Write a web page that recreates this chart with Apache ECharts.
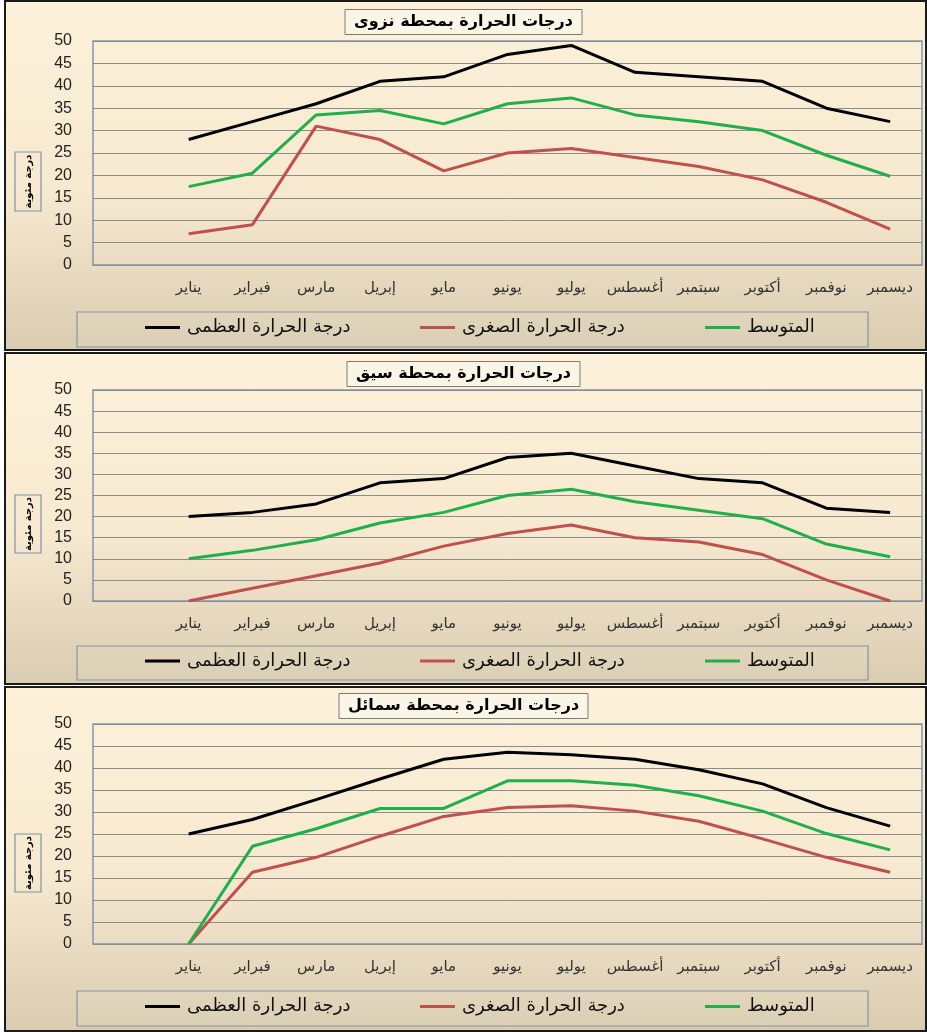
<!DOCTYPE html>
<html>
<head>
<meta charset="utf-8">
<script src="https://cdn.jsdelivr.net/npm/echarts@6/dist/echarts.min.js"></script>
<style>
  html, body { margin: 0; padding: 0; background: #ffffff; }
  #wrap { position: relative; width: 927px; height: 1032px; overflow: hidden; }
  .panel { position: absolute; left: 4px; width: 919px; border: 2px solid #1a1a1a;
           background: linear-gradient(to bottom, #fdf1da 0%, #f6e9cf 55%, #d9ccb1 100%); }
  #chart { position: absolute; left: 0; top: 0; width: 927px; height: 1032px; }
</style>
</head>
<body>
<div id="wrap">
  <div class="panel" style="top:0px;height:347px;"></div>
  <div class="panel" style="top:352px;height:329px;"></div>
  <div class="panel" style="top:686px;height:342px;"></div>
  <div id="chart"></div>
</div>
<script>
// ---- data ----
const months = ['يناير','فبراير','مارس','إبريل','مايو','يونيو','يوليو','أغسطس','سبتمبر','أكتوبر','نوفمبر','ديسمبر'];
const stationTitles = ['درجات الحرارة بمحطة نزوى', 'درجات الحرارة بمحطة سيق', 'درجات الحرارة بمحطة سمائل'];
const seriesNames = ['درجة الحرارة العظمى', 'درجة الحرارة الصغرى', 'المتوسط'];
const yAxisName = 'درجة مئوية';
const yMin = 0, yMax = 50, yInterval = 5;

const nizwaMax = [28, 32, 36, 41, 42, 47, 49, 43, 42, 41, 35, 32];
const nizwaMin = [7, 9, 31, 28, 21, 25, 26, 24, 22, 19, 14, 8];
const nizwaAvg = [17.5, 20.5, 33.5, 34.5, 31.5, 36, 37.3, 33.5, 32, 30, 24.5, 19.8];

const sayqMax = [20, 21, 23, 28, 29, 34, 35, 32, 29, 28, 22, 21];
const sayqMin = [0, 3, 6, 9, 13, 16, 18, 15, 14, 11, 5, 0];
const sayqAvg = [10, 12, 14.5, 18.5, 21, 25, 26.5, 23.5, 21.5, 19.5, 13.5, 10.5];

const samailMax = [25, 28.3, 32.8, 37.5, 42, 43.6, 43, 42, 39.6, 36.4, 31, 26.8];
const samailMin = [0, 16.3, 19.7, 24.5, 29, 31, 31.4, 30.2, 27.9, 23.9, 19.7, 16.3];
const samailAvg = [0, 22.2, 26.2, 30.8, 30.8, 37.1, 37.1, 36.1, 33.7, 30.2, 25.1, 21.4];

// ---- layout ----
const colors = ['#000000', '#c0504d', '#1fb04c'];
const panels = [
  { top: 41, height: 224, titleTop: 9, nameBox: [15, 152, 26, 59], legendBox: [77, 312, 791, 35],
    data: [nizwaMax, nizwaMin, nizwaAvg], labelFont: 'Liberation Sans' },
  { top: 390, height: 211, titleTop: 361, nameBox: [15, 495, 26, 58], legendBox: [77, 646, 791, 34],
    data: [sayqMax, sayqMin, sayqAvg], labelFont: 'Liberation Sans Narrow' },
  { top: 724, height: 220, titleTop: 693, nameBox: [15, 834, 26, 58], legendBox: [77, 991, 791, 35],
    data: [samailMax, samailMin, samailAvg], labelFont: 'Liberation Sans Narrow' }
];
const legendLefts = [145, 420, 705];
const categories = [''].concat(months);

const option = {
  backgroundColor: 'transparent',
  animation: false,
  title: [], grid: [], xAxis: [], yAxis: [], series: [], legend: [], graphic: []
};

panels.forEach((p, i) => {
  option.title.push({
    text: stationTitles[i], left: 'center', top: p.titleTop,
    backgroundColor: '#fbf5e6', borderColor: '#7a7a7a', borderWidth: 1,
    padding: [4, 9, 4, 9],
    textStyle: { fontSize: 16, fontWeight: 'bold', color: '#000', fontFamily: 'DejaVu Sans, sans-serif', lineHeight: 18 }
  });
  option.grid.push({
    left: 93, right: 5, top: p.top, height: p.height,
    show: true, borderColor: '#7f96b2', borderWidth: 1.5, backgroundColor: 'transparent'
  });
  option.xAxis.push({
    type: 'category', gridIndex: i, data: categories, boundaryGap: true,
    axisLine: { show: false }, axisTick: { show: false },
    axisLabel: { interval: 0, margin: 16, fontSize: 15, color: '#333', fontFamily: 'DejaVu Sans, sans-serif' }
  });
  option.yAxis.push({
    type: 'value', gridIndex: i, min: yMin, max: yMax, interval: yInterval,
    axisLine: { show: false }, axisTick: { show: false },
    axisLabel: { margin: 21, fontSize: 16, color: '#222', fontFamily: p.labelFont + ', Liberation Sans, sans-serif' },
    splitLine: { show: true, lineStyle: { color: '#8c8c8c', width: 1 } }
  });
  p.data.forEach((arr, k) => {
    option.series.push({
      name: seriesNames[k], type: 'line', xAxisIndex: i, yAxisIndex: i,
      data: [null].concat(arr), smooth: false, showSymbol: false, symbol: 'none',
      lineStyle: { color: colors[k], width: 3 }, itemStyle: { color: colors[k] },
      z: 3 + (k === 0 ? 2 : k === 2 ? 1 : 0)
    });
  });
  const lb = p.legendBox;
  option.graphic.push({
    type: 'rect', shape: { x: lb[0], y: lb[1], width: lb[2], height: lb[3] },
    style: { fill: 'rgba(255,255,255,0.05)', stroke: '#8496a8', lineWidth: 1.2 }, z: 1
  });
  const nb = p.nameBox;
  option.graphic.push({
    type: 'rect', shape: { x: nb[0], y: nb[1], width: nb[2], height: nb[3] },
    style: { fill: 'transparent', stroke: '#7f93a8', lineWidth: 1.2 }, z: 1
  });
  option.graphic.push({
    type: 'text', x: nb[0] + nb[2] / 2, y: nb[1] + nb[3] / 2, rotation: Math.PI / 2,
    style: { text: yAxisName, fontSize: 10, fontWeight: 'bold', fill: '#000', align: 'center', verticalAlign: 'middle',
             fontFamily: 'DejaVu Sans, sans-serif' }, z: 2
  });
  seriesNames.forEach((nm, k) => {
    option.legend.push({
      data: [nm], left: legendLefts[k], top: lb[1] + lb[3] / 2 - 11,
      icon: 'rect', itemWidth: 35, itemHeight: 3, itemGap: 0, padding: 0,
      selectedMode: false,
      textStyle: { fontSize: 18, color: '#111', fontFamily: 'DejaVu Sans, sans-serif', padding: [0, 0, 0, 2] }
    });
  });
});

const chart = echarts.init(document.getElementById('chart'), null, { renderer: 'canvas' });
chart.setOption(option);
</script>
</body>
</html>
